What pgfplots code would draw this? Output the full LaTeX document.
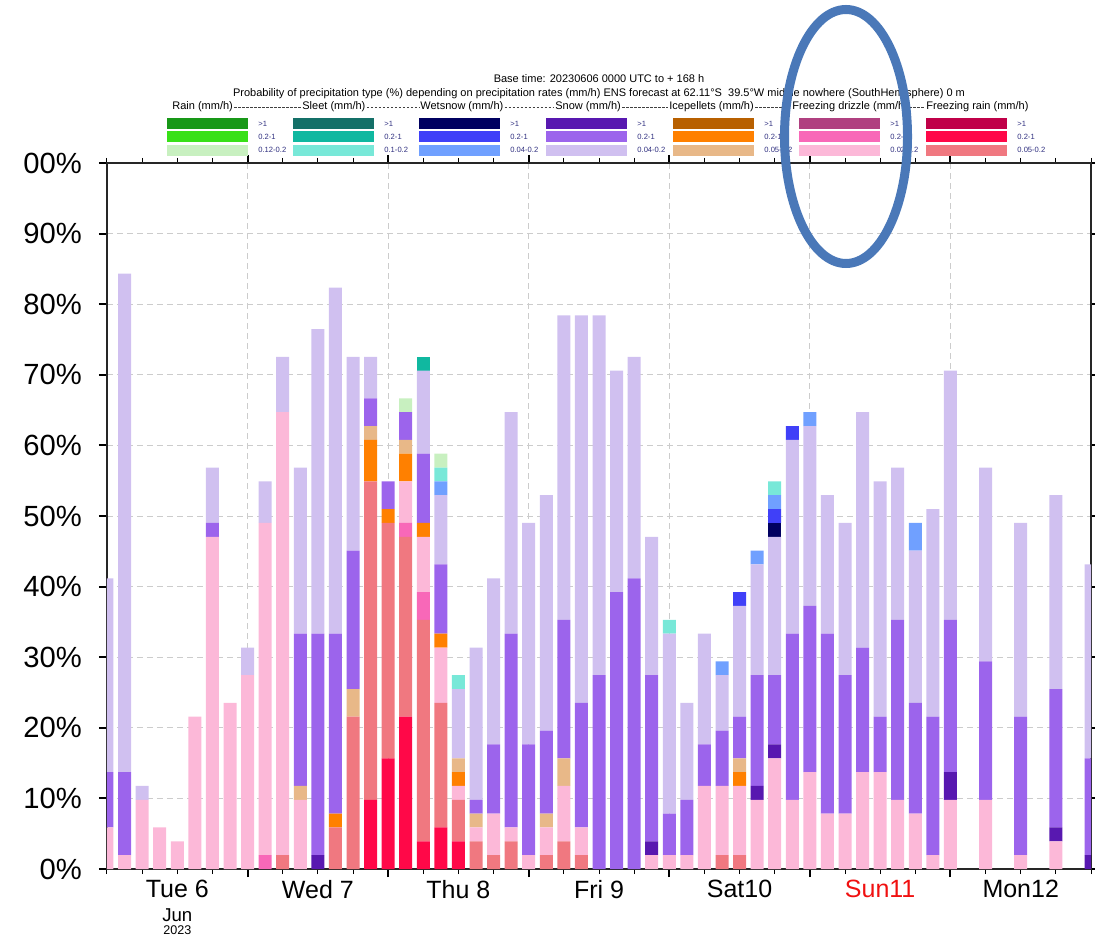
\documentclass[border=0pt]{standalone}
\usepackage{pgfplots}
\pgfplotsset{compat=1.18}
\usepackage{pgfplotstable}
\usepackage{fontspec}
\setmainfont{Liberation Sans}
\newcommand\fs[1]{\fontsize{#1}{#1}\selectfont}
% colours
\definecolor{rH}{HTML}{189818}\definecolor{rM}{HTML}{38E018}\definecolor{rL}{HTML}{C8F0C0}
\definecolor{sH}{HTML}{147068}\definecolor{sM}{HTML}{10B8A0}\definecolor{sL}{HTML}{78E8D8}
\definecolor{wH}{HTML}{000060}\definecolor{wM}{HTML}{4040F8}\definecolor{wL}{HTML}{70A0FF}
\definecolor{nH}{HTML}{5818B0}\definecolor{nM}{HTML}{9C64EC}\definecolor{nL}{HTML}{D0C0F0}
\definecolor{iH}{HTML}{B86000}\definecolor{iM}{HTML}{FF8000}\definecolor{iL}{HTML}{E8B888}
\definecolor{dH}{HTML}{B04080}\definecolor{dM}{HTML}{F868B8}\definecolor{dL}{HTML}{FCB8D8}
\definecolor{fH}{HTML}{C00048}\definecolor{fM}{HTML}{FF0848}\definecolor{fL}{HTML}{F07880}
\definecolor{labblue}{HTML}{303080}
\definecolor{ellblue}{HTML}{4A78B8}
\definecolor{sunred}{HTML}{F01010}
% number of ensemble members (of 51) per category
\pgfplotstableread{
h   FRm FRl FDm FDl IPm IPl SNh SNm SNl WSh WSm WSl SLm SLl RNl
0   0 0 0 3 0 0 0 4 14 0 0 0 0 0 0
3   0 0 0 1 0 0 0 6 36 0 0 0 0 0 0
6   0 0 0 5 0 0 0 0 1 0 0 0 0 0 0
9   0 0 0 3 0 0 0 0 0 0 0 0 0 0 0
12  0 0 0 2 0 0 0 0 0 0 0 0 0 0 0
15  0 0 0 11 0 0 0 0 0 0 0 0 0 0 0
18  0 0 0 24 0 0 0 1 4 0 0 0 0 0 0
21  0 0 0 12 0 0 0 0 0 0 0 0 0 0 0
24  0 0 0 14 0 0 0 0 2 0 0 0 0 0 0
27  0 0 1 24 0 0 0 0 3 0 0 0 0 0 0
30  0 1 0 32 0 0 0 0 4 0 0 0 0 0 0
33  0 0 0 5 0 1 0 11 12 0 0 0 0 0 0
36  0 0 0 0 0 0 1 16 22 0 0 0 0 0 0
39  0 3 0 0 1 0 0 13 25 0 0 0 0 0 0
42  0 11 0 0 0 2 0 10 14 0 0 0 0 0 0
45  5 23 0 0 3 1 0 2 3 0 0 0 0 0 0
48  8 17 0 0 1 0 0 2 0 0 0 0 0 0 0
51  11 13 1 3 2 1 0 2 0 0 0 0 0 0 1
54  2 16 2 4 1 0 0 5 6 0 0 0 1 0 0
57  3 9 0 4 1 0 0 5 5 0 0 1 0 1 1
60  2 3 0 1 1 1 0 0 5 0 0 0 0 1 0
63  0 2 0 1 0 1 0 1 11 0 0 0 0 0 0
66  0 1 0 3 0 0 0 5 12 0 0 0 0 0 0
69  0 2 0 1 0 0 0 14 16 0 0 0 0 0 0
72  0 0 0 1 0 0 0 8 16 0 0 0 0 0 0
75  0 1 0 2 0 1 0 6 17 0 0 0 0 0 0
78  0 2 0 4 0 2 0 10 22 0 0 0 0 0 0
81  0 1 0 2 0 0 0 9 28 0 0 0 0 0 0
84  0 0 0 0 0 0 0 14 26 0 0 0 0 0 0
87  0 0 0 0 0 0 0 20 16 0 0 0 0 0 0
90  0 0 0 0 0 0 0 21 16 0 0 0 0 0 0
93  0 0 0 1 0 0 1 12 10 0 0 0 0 0 0
96  0 0 0 1 0 0 0 3 13 0 0 0 0 1 0
99  0 0 0 1 0 0 0 4 7 0 0 0 0 0 0
102 0 0 0 6 0 0 0 3 8 0 0 0 0 0 0
105 0 1 0 5 0 0 0 4 4 0 0 1 0 0 0
108 0 1 0 5 1 1 0 3 8 0 1 0 0 0 0
111 0 0 0 5 0 0 1 8 8 0 0 1 0 0 0
114 0 0 0 8 0 0 1 5 10 1 1 1 0 1 0
117 0 0 0 5 0 0 0 12 14 0 1 0 0 0 0
120 0 0 0 7 0 0 0 12 13 0 0 1 0 0 0
123 0 0 0 4 0 0 0 13 10 0 0 0 0 0 0
126 0 0 0 4 0 0 0 10 11 0 0 0 0 0 0
129 0 0 0 7 0 0 0 9 17 0 0 0 0 0 0
132 0 0 0 7 0 0 0 4 17 0 0 0 0 0 0
135 0 0 0 5 0 0 0 13 11 0 0 0 0 0 0
138 0 0 0 4 0 0 0 8 11 0 0 2 0 0 0
141 0 0 0 1 0 0 0 10 15 0 0 0 0 0 0
144 0 0 0 5 0 0 2 11 18 0 0 0 0 0 0
150 0 0 0 5 0 0 0 10 14 0 0 0 0 0 0
156 0 0 0 1 0 0 0 10 14 0 0 0 0 0 0
162 0 0 0 2 0 0 1 10 14 0 0 0 0 0 0
168 0 0 0 0 0 0 1 7 14 0 0 0 0 0 0
}\data
\begin{document}
\begin{tikzpicture}
\useasboundingbox (-53.5pt,-34pt) rectangle (494pt,434.5pt);
\begin{axis}[
  at={(0pt,0pt)}, anchor=south west,
  scale only axis, width=492pt, height=353pt,
  xmin=0, xmax=168, ymin=0, ymax=51,
  ybar stacked, bar width=6.5pt,
  xtick={24,48,72,96,120,144}, xticklabels={},
  minor xtick={0,6,...,168},
  extra x ticks={12,36,60,84,108,132,156},
  extra x tick labels={Tue 6,Wed 7,Thu 8,Fri 9,Sat10,{\color{sunred}Sun11},Mon12},
  extra x tick style={grid=none, major tick length=0pt,
     xticklabel style={font=\fs{12.5}, yshift=-2pt}},
  ytick={0,5.1,10.2,15.3,20.4,25.5,30.6,35.7,40.8,45.9,51},
  yticklabels={0\%,10\%,20\%,30\%,40\%,50\%,60\%,70\%,80\%,90\%,00\%},
  yticklabel style={font=\fs{14.6}, xshift=-5pt},
  xmajorgrids, ymajorgrids,
  grid style={color=black!20, dash pattern=on 3pt off 2pt, line width=0.5pt},
  tick align=outside,
  major tick length=4pt, minor tick length=2.5pt,
  major tick style={black, line width=1pt},
  minor tick style={black, line width=0.5pt},
  axis line style={line width=1.1pt, black!85},
  every axis plot/.append style={draw=none},
]
\addplot[fill=fM] table[x=h,y=FRm]{\data};
\addplot[fill=fL] table[x=h,y=FRl]{\data};
\addplot[fill=dM] table[x=h,y=FDm]{\data};
\addplot[fill=dL] table[x=h,y=FDl]{\data};
\addplot[fill=iM] table[x=h,y=IPm]{\data};
\addplot[fill=iL] table[x=h,y=IPl]{\data};
\addplot[fill=nH] table[x=h,y=SNh]{\data};
\addplot[fill=nM] table[x=h,y=SNm]{\data};
\addplot[fill=nL] table[x=h,y=SNl]{\data};
\addplot[fill=wH] table[x=h,y=WSh]{\data};
\addplot[fill=wM] table[x=h,y=WSm]{\data};
\addplot[fill=wL] table[x=h,y=WSl]{\data};
\addplot[fill=sM] table[x=h,y=SLm]{\data};
\addplot[fill=sL] table[x=h,y=SLl]{\data};
\addplot[fill=rL] table[x=h,y=RNl]{\data};
\end{axis}
% month / year under Tue 6
\node[font=\fs{9.3}] at (35.14pt,-23pt) {Jun};
\node[font=\fs{6.3}] at (35.14pt,-30.5pt) {2023};
% header
\node[font=\fs{5.5}] at (246pt,395pt) {Base time: 20230606 0000 UTC to + 168 h};
\node[font=\fs{5.5}] at (246pt,387.5pt) {Probability of precipitation type (\%) depending on precipitation rates (mm/h) ENS forecast at 62.11°S\ \ 39.5°W middle nowhere (SouthHemisphere) 0 m};
\begin{scope}[every node/.style={font=\fs{5.5}, inner sep=0pt, anchor=west}]
\node (h1) at (32.5pt,381pt) {Rain (mm/h)};
\node (h2) at (97.5pt,381pt) {Sleet (mm/h)};
\node (h3) at (156.5pt,381pt) {Wetsnow (mm/h)};
\node (h4) at (224pt,381pt) {Snow (mm/h)};
\node (h5) at (281pt,381pt) {Icepellets (mm/h)};
\node (h6) at (342.5pt,381pt) {Freezing drizzle (mm/h)};
\node (h7) at (409.5pt,381pt) {Freezing rain (mm/h)};
\end{scope}
\foreach \a/\b in {h1/h2,h2/h3,h3/h4,h4/h5,h5/h6,h6/h7}
  \draw[black!75, line width=0.3pt, dash pattern=on 1.3pt off 0.7pt] ([xshift=0.5pt]\a.east) -- ([xshift=-0.5pt]\b.west);
\foreach \x/\ca/\cb/\cc/\lab in {30/rH/rM/rL/0.12-0.2, 93/sH/sM/sL/0.1-0.2, 156/wH/wM/wL/0.04-0.2,
   219.5/nH/nM/nL/0.04-0.2, 283/iH/iM/iL/0.05-0.2, 346/dH/dM/dL/0.02-0.2, 409.5/fH/fM/fL/0.05-0.2}{
  \fill[\ca] (\x pt,370pt) rectangle ++(40.5pt,5.5pt);
  \fill[\cb] (\x pt,363.3pt) rectangle ++(40.5pt,5.5pt);
  \fill[\cc] (\x pt,356.6pt) rectangle ++(40.5pt,5.5pt);
  \node[font=\fs{3.8}, text=labblue, anchor=west, inner sep=0pt] at (\x pt+45.5pt,372.75pt) {>1};
  \node[font=\fs{3.8}, text=labblue, anchor=west, inner sep=0pt] at (\x pt+45.5pt,366.05pt) {0.2-1};
  \node[font=\fs{3.8}, text=labblue, anchor=west, inner sep=0pt] at (\x pt+45.5pt,359.35pt) {\lab};
}
% annotation ellipse
\draw[line width=4.5pt, ellblue] (369.5pt,366.25pt) ellipse [x radius=30.75pt, y radius=63.5pt];
\end{tikzpicture}
\end{document}
